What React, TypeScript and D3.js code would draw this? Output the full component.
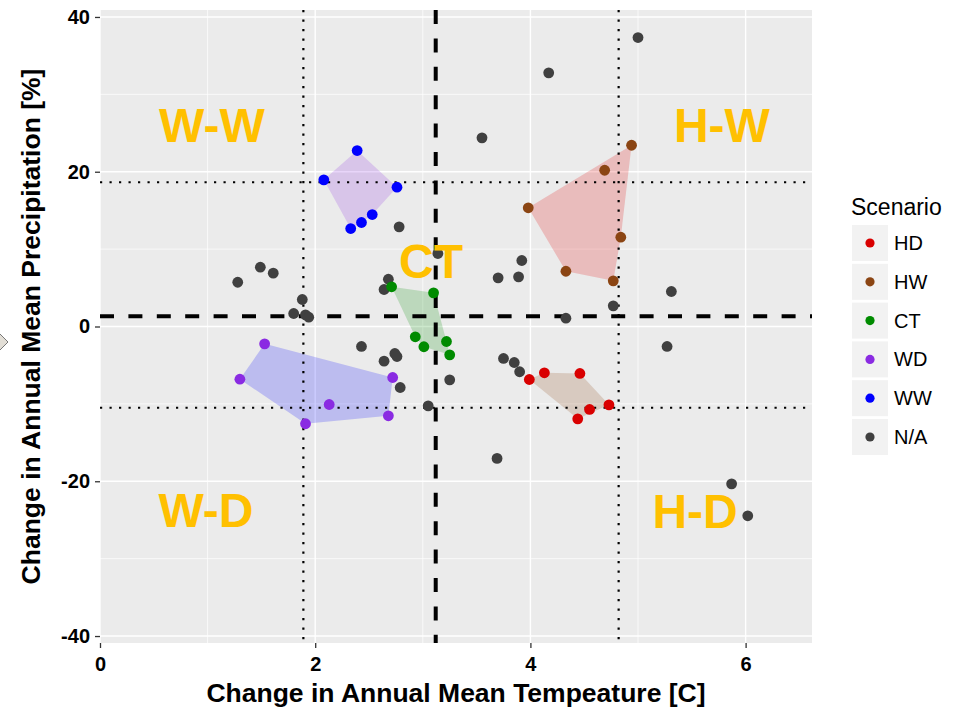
import React, { useEffect, useRef } from "react";
import * as d3 from "d3";

// scenario points: [temperature change, precipitation change]
const hdPoints: [number, number][] = [
  [3.99, -6.85], [4.13, -5.98], [4.46, -6.07], [4.73, -10.12], [4.55, -10.72], [4.44, -11.93],
];
const hwPoints: [number, number][] = [
  [3.98, 15.34], [4.69, 20.19], [4.94, 23.42], [4.84, 11.54], [4.33, 7.14], [4.77, 5.9],
];
const ctPoints: [number, number][] = [
  [2.71, 5.13], [3.1, 4.35], [2.93, -1.33], [3.01, -2.62], [3.22, -1.94], [3.25, -3.66],
];
const wdPoints: [number, number][] = [
  [1.53, -2.24], [1.3, -6.81], [1.91, -12.57], [2.13, -10.08], [2.68, -11.54], [2.72, -6.59],
];
const wwPoints: [number, number][] = [
  [2.08, 18.95], [2.39, 22.74], [2.76, 18.0], [2.33, 12.66], [2.43, 13.44], [2.53, 14.47],
];
const naPoints: [number, number][] = [
  [3.55, 24.38], [4.17, 32.78], [5.0, 37.34], [2.78, 12.88], [3.14, 9.43], [2.68, 6.11],
  [2.64, 4.78], [1.28, 5.72], [1.49, 7.66], [1.61, 6.89], [1.88, 3.49], [1.8, 1.68],
  [1.91, 1.51], [1.94, 1.2], [2.43, -2.58], [2.74, -3.49], [2.76, -3.88], [2.64, -4.48],
  [2.79, -7.88], [3.25, -6.89], [3.05, -10.25], [3.7, 6.29], [3.92, 8.53], [3.89, 6.42],
  [4.77, 2.67], [4.33, 1.07], [5.31, 4.52], [5.27, -2.58], [3.75, -4.13], [3.85, -4.65],
  [3.9, -5.85], [3.69, -17.05], [5.87, -20.33], [6.02, -24.46],
];

const scenarios = ["HD", "HW", "CT", "WD", "WW", "N/A"];
const scenarioPoints = [hdPoints, hwPoints, ctPoints, wdPoints, wwPoints, naPoints];
const pointColors = ["#d90000", "#8b4513", "#008b00", "#8a2be2", "#0000ff", "#404040"];
// hull fills as they appear in the figure
const hullColors = ["#8b4513", "#e00000", "#008b00", "#0000ff", "#8a2be2", null];

const dashedX = 3.12;
const dashedY = 1.33;
const dottedX = [1.89, 4.82];
const dottedY = [18.64, -10.5];

const quadLabels = ["W-W", "H-W", "W-D", "H-D", "CT"];
const quadLabelX = [1.04, 5.78, 0.985, 5.53, 3.076];
const quadLabelY = [23.8, 23.8, -25.97, -26.0, 6.29];

const xTicks = [0, 2, 4, 6];
const xMinor = [1, 3, 5];
const yTicks = [-40, -20, 0, 20, 40];
const yMinor = [-30, -10, 10, 30];

const FONT = "'Liberation Sans', Arial, Helvetica, sans-serif";

const App = () => {
  const ref = useRef<SVGSVGElement | null>(null);

  useEffect(() => {
    const svg = d3.select(ref.current);
    svg.selectAll("*").remove();

    const panel = { left: 100, right: 812, top: 10, bottom: 643 };
    const x = d3.scaleLinear().domain([0, 6.617]).range([panel.left, panel.right]);
    const y = d3.scaleLinear().domain([-40.9, 40.9]).range([panel.bottom, panel.top]);

    svg.append("defs").append("clipPath").attr("id", "panel-clip")
      .append("rect")
      .attr("x", panel.left).attr("y", panel.top)
      .attr("width", panel.right - panel.left).attr("height", panel.bottom - panel.top);

    // panel + grid
    svg.append("rect")
      .attr("x", panel.left).attr("y", panel.top)
      .attr("width", panel.right - panel.left).attr("height", panel.bottom - panel.top)
      .attr("fill", "#ebebeb");

    const grid = svg.append("g").attr("stroke", "#ffffff");
    grid.selectAll(".xmin").data(xMinor).enter().append("line")
      .attr("x1", d => x(d)).attr("x2", d => x(d))
      .attr("y1", panel.top).attr("y2", panel.bottom).attr("stroke-width", 0.7);
    grid.selectAll(".ymin").data(yMinor).enter().append("line")
      .attr("y1", d => y(d)).attr("y2", d => y(d))
      .attr("x1", panel.left).attr("x2", panel.right).attr("stroke-width", 0.7);
    grid.selectAll(".xmaj").data(xTicks).enter().append("line")
      .attr("x1", d => x(d)).attr("x2", d => x(d))
      .attr("y1", panel.top).attr("y2", panel.bottom).attr("stroke-width", 1.4);
    grid.selectAll(".ymaj").data(yTicks).enter().append("line")
      .attr("y1", d => y(d)).attr("y2", d => y(d))
      .attr("x1", panel.left).attr("x2", panel.right).attr("stroke-width", 1.4);

    const plot = svg.append("g").attr("clip-path", "url(#panel-clip)");

    // hulls
    scenarioPoints.forEach((pts, i) => {
      const fill = hullColors[i];
      if (!fill) return;
      const hull = d3.polygonHull(pts.map(p => [x(p[0]), y(p[1])] as [number, number]));
      if (!hull) return;
      plot.append("path")
        .attr("d", "M" + hull.map(p => p.join(",")).join("L") + "Z")
        .attr("fill", fill)
        .attr("fill-opacity", 0.2);
    });

    // threshold lines
    dottedX.forEach(v => {
      plot.append("line")
        .attr("x1", x(v)).attr("x2", x(v)).attr("y1", panel.top).attr("y2", panel.bottom)
        .attr("stroke", "#000").attr("stroke-width", 2.2).attr("stroke-dasharray", "2.2 7.3");
    });
    dottedY.forEach(v => {
      plot.append("line")
        .attr("y1", y(v)).attr("y2", y(v)).attr("x1", panel.left).attr("x2", panel.right)
        .attr("stroke", "#000").attr("stroke-width", 2.2).attr("stroke-dasharray", "2.2 7.3");
    });
    plot.append("line")
      .attr("x1", x(dashedX)).attr("x2", x(dashedX)).attr("y1", panel.top).attr("y2", panel.bottom)
      .attr("stroke", "#000").attr("stroke-width", 4).attr("stroke-dasharray", "14 14.4");
    plot.append("line")
      .attr("y1", y(dashedY)).attr("y2", y(dashedY)).attr("x1", panel.left).attr("x2", panel.right)
      .attr("stroke", "#000").attr("stroke-width", 4).attr("stroke-dasharray", "14 14.4");

    // points, N/A first so coloured ones sit on top
    const order = [5, 0, 1, 2, 3, 4];
    order.forEach(i => {
      plot.selectAll(".pt" + i).data(scenarioPoints[i]).enter().append("circle")
        .attr("cx", d => x(d[0])).attr("cy", d => y(d[1]))
        .attr("r", 5.4)
        .attr("fill", pointColors[i]);
    });

    // quadrant labels
    plot.selectAll(".qlab").data(quadLabels).enter().append("text")
      .attr("x", (d, i) => x(quadLabelX[i]))
      .attr("y", (d, i) => y(quadLabelY[i]))
      .attr("text-anchor", "middle")
      .attr("font-family", FONT)
      .attr("font-weight", "bold")
      .attr("font-size", 48)
      .attr("fill", "#ffc000")
      .text(d => d);

    // axes
    const xAxis = svg.append("g")
      .attr("transform", `translate(0,${panel.bottom})`)
      .call(d3.axisBottom(x).tickValues(xTicks).tickSize(5).tickPadding(9).tickFormat(d3.format("d")));
    const yAxis = svg.append("g")
      .attr("transform", `translate(${panel.left},0)`)
      .call(d3.axisLeft(y).tickValues(yTicks).tickSize(5).tickPadding(5).tickFormat(d3.format("d")));
    [xAxis, yAxis].forEach(ax => {
      ax.select(".domain").remove();
      ax.selectAll(".tick line").attr("stroke", "#333333").attr("stroke-width", 1.3);
      ax.selectAll(".tick text")
        .attr("fill", "#000")
        .style("font-family", FONT)
        .style("font-weight", "bold")
        .style("font-size", "20px");
    });
    yAxis.selectAll(".tick text").text((d: any) => (d < 0 ? "-" + Math.abs(d) : String(d)));

    svg.append("text")
      .attr("x", (panel.left + panel.right) / 2).attr("y", 702)
      .attr("text-anchor", "middle")
      .attr("font-family", FONT).attr("font-weight", "bold").attr("font-size", 26.5)
      .text("Change in Annual Mean Tempeature [C]");
    svg.append("text")
      .attr("transform", `translate(40,${(panel.top + panel.bottom) / 2}) rotate(-90)`)
      .attr("text-anchor", "middle")
      .attr("font-family", FONT).attr("font-weight", "bold").attr("font-size", 26.5)
      .text("Change in Annual Mean Precipitation [%]");

    // legend
    const legend = svg.append("g").attr("font-family", FONT);
    legend.append("text").attr("x", 851).attr("y", 215).attr("font-size", 23).text("Scenario");
    const keys = legend.selectAll(".key").data(scenarios).enter().append("g")
      .attr("transform", (d, i) => `translate(852,${225 + i * 38.8})`);
    keys.append("rect").attr("width", 36).attr("height", 36).attr("fill", "#f2f2f2");
    keys.append("circle").attr("cx", 18).attr("cy", 18).attr("r", 4.6)
      .attr("fill", (d, i) => pointColors[i]);
    keys.append("text").attr("x", 42).attr("y", 18).attr("dy", "0.35em")
      .attr("font-size", 20).text(d => d);

    // little marker peeking in at the left edge
    svg.append("path")
      .attr("d", "M-3,331L8,342L-3,353Z")
      .attr("fill", "#e2ded6").attr("stroke", "#777").attr("stroke-width", 1);
  }, []);

  return (
    <svg
      ref={ref}
      width={965}
      height={711}
      style={{ position: "absolute", left: 0, top: 0, background: "#fff" }}
    />
  );
};

export default App;
